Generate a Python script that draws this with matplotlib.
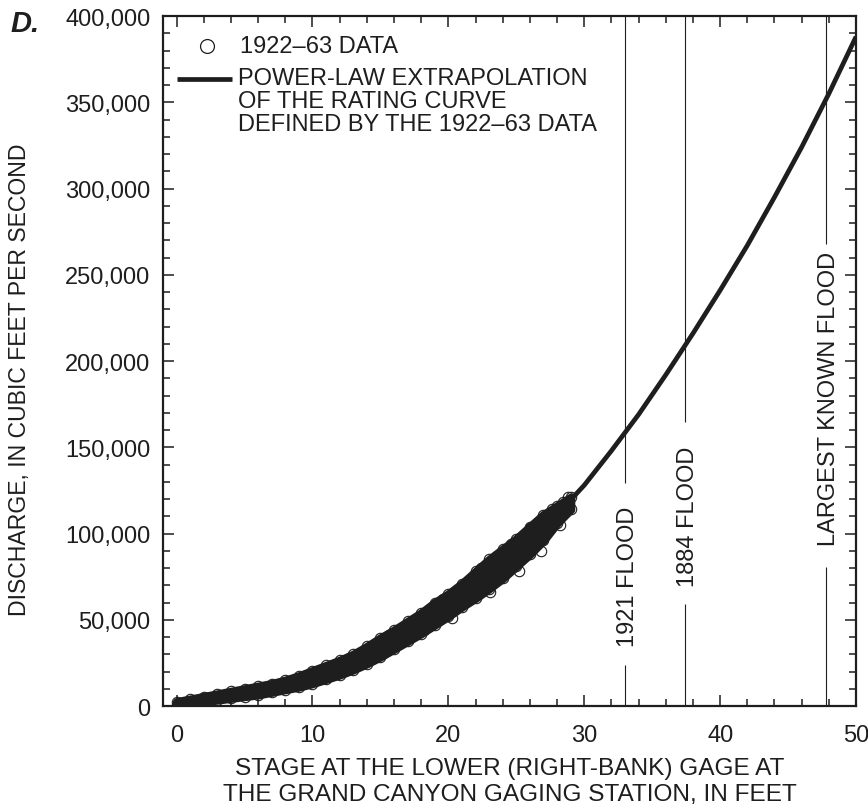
import matplotlib
matplotlib.use('Agg')
import matplotlib.pyplot as plt
from matplotlib.ticker import MultipleLocator, FuncFormatter

plt.rcParams['font.family'] = ['Liberation Sans', 'DejaVu Sans']

# 1922-63 measurements, read as the lower / upper edge of the point cloud per foot of stage
data_stage = list(range(0, 30))
data_q_low = [500, 1500, 2500, 3500, 4500, 5500, 6500, 8000, 9500, 11000,
              13000, 15500, 18000, 21000, 24500, 28500, 33000, 37500, 42000, 47000,
              52000, 57500, 62500, 68000, 74000, 81000, 88000, 96000, 106000, 114000]
data_q_high = [2500, 4000, 5500, 7000, 8500, 10000, 11500, 13000, 15000, 17500,
               20500, 23500, 26500, 30000, 34500, 39500, 44000, 49000, 54000, 60000,
               65000, 71000, 78000, 85000, 91000, 97000, 104000, 111000, 116000, 121000]

# scattered measurements that stick out of the cloud
stray_stage = [0.0, 0.4, 15.6, 17.3, 18.2, 19.6, 20.3, 22.4, 23.1, 24.6, 25.2, 26.0, 26.8, 27.6, 28.2, 28.8, 28.4]
stray_q = [0, 1500, 41000, 49000, 44000, 62000, 51000, 80000, 66000, 94000, 78000, 103000, 90000, 114000, 105000, 121000, 118000]

# power-law rating curve
curve_stage = [0, 2, 4, 6, 8, 10, 12, 14, 16, 18, 20, 22, 24, 26,
               28, 30, 32, 34, 36, 38, 40, 42, 44, 46, 48, 50]
curve_q = [1500, 4000, 6500, 9000, 12500, 17000, 22500, 29500, 38500, 48000,
           58500, 70000, 82500, 96000, 111000, 128000, 148000, 169000, 192000, 216000,
           241000, 267000, 295000, 324000, 355000, 388000]

flood_names = ['1921 FLOOD', '1884 FLOOD', 'LARGEST KNOWN FLOOD']
flood_stage = [33.0, 37.4, 47.8]
# where each vertical line is broken for its label, and the label centre
flood_gap_low = [23800, 59000, 80600]
flood_gap_high = [129000, 164600, 268000]
flood_label_q = [75500, 110000, 178500]

ink = '#1e1e1e'
fs = 17

fig = plt.figure(figsize=(8.68, 8.12), dpi=100)
ax = fig.add_axes([0.1878, 0.1293, 0.7984, 0.8497])

# data cloud
ax.fill_between(data_stage, data_q_low, data_q_high, color=ink, lw=6, zorder=2)
ax.plot(data_stage + data_stage + stray_stage, data_q_low + data_q_high + stray_q,
        'o', ms=7.5, mfc='none', mec=ink, mew=0.8, zorder=3)

# rating curve
ax.plot(curve_stage, curve_q, color=ink, lw=3.4, solid_capstyle='butt', zorder=4)

# flood stages
for name, s, lo, hi, lq in zip(flood_names, flood_stage, flood_gap_low, flood_gap_high, flood_label_q):
    ax.vlines(s, 0, lo, color=ink, lw=0.8, zorder=1)
    ax.vlines(s, hi, 400000, color=ink, lw=0.8, zorder=1)
    ax.text(s + 0.2, lq, name, rotation=90, ha='center', va='center',
            fontsize=fs, color=ink)

ax.set_xlim(-1, 50)
ax.set_ylim(0, 400000)
ax.xaxis.set_major_locator(MultipleLocator(10))
ax.xaxis.set_minor_locator(MultipleLocator(2))
ax.yaxis.set_major_locator(MultipleLocator(50000))
ax.yaxis.set_minor_locator(MultipleLocator(10000))
ax.yaxis.set_major_formatter(FuncFormatter(lambda v, p: f'{v:,.0f}'))

ax.tick_params(which='both', direction='in', top=True, right=True,
               width=1.1, color=ink, labelcolor=ink, labelsize=fs)
ax.tick_params(which='major', length=8)
ax.tick_params(which='minor', length=5)
ax.tick_params(axis='x', which='major', pad=13)
ax.tick_params(axis='y', which='major', pad=9)
for sp in ax.spines.values():
    sp.set_linewidth(1.6)
    sp.set_color(ink)

ax.set_xlabel('STAGE AT THE LOWER (RIGHT-BANK) GAGE AT\nTHE GRAND CANYON GAGING STATION, IN FEET',
              fontsize=17.6, color=ink, linespacing=1.2, labelpad=8)
ax.set_ylabel('DISCHARGE, IN CUBIC FEET PER SECOND', fontsize=16.6, color=ink)
ax.yaxis.set_label_coords(-0.19, 0.474)

# key
ax.plot([0.0635], [0.9565], 'o', ms=10, mfc='none', mec=ink, mew=0.9,
        transform=ax.transAxes, clip_on=False)
ax.text(0.111, 0.9565, '1922\u201363 DATA', transform=ax.transAxes,
        ha='left', va='center', fontsize=fs, color=ink)
ax.plot([0.020, 0.0996], [0.9087, 0.9087], color=ink, lw=3.4,
        transform=ax.transAxes, solid_capstyle='butt')
ax.text(0.108, 0.926, 'POWER-LAW EXTRAPOLATION\nOF THE RATING CURVE\nDEFINED BY THE 1922\u201363 DATA',
        transform=ax.transAxes, ha='left', va='top', fontsize=fs, color=ink,
        linespacing=1.07)

fig.text(0.012, 0.988, 'D.', fontsize=21, fontweight='bold', fontstyle='italic',
         ha='left', va='top', color=ink)

fig.savefig('out.png', dpi=100)
